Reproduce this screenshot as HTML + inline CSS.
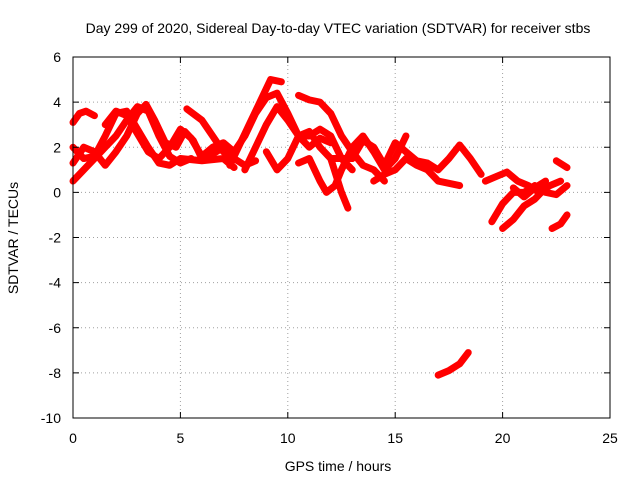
<!DOCTYPE html>
<html><head><meta charset="utf-8"><style>
body{margin:0;background:#fff}
svg{font-family:"Liberation Sans",sans-serif;font-size:14px}
</style></head><body>
<svg width="640" height="480" id="chart">
<text x="338" y="33" text-anchor="middle">Day 299 of 2020, Sidereal Day-to-day VTEC variation (SDTVAR) for receiver stbs</text>
<text x="338" y="471" text-anchor="middle">GPS time / hours</text>
<text transform="translate(18,238) rotate(-90)" text-anchor="middle">SDTVAR / TECUs</text>
<g id="grid"></g><g id="marks"></g><g id="axes"></g>
</svg>
<script>
const xTicks=[0,5,10,15,20,25];
const yTicks=[-10,-8,-6,-4,-2,0,2,4,6];
const track0=[[0,3.1],[0.3,3.5],[0.6,3.6],[1,3.4]];
const track1=[[0,0.5],[0.5,1.0],[1,1.5],[1.5,2.0],[2,2.5],[2.5,3.2],[3,3.8],[3.5,3.6],[4,2.5],[4.5,1.6],[5,1.3],[5.5,1.5]];
const track2=[[0,2.0],[0.5,1.5],[1,1.6],[1.5,2.5],[2,3.5],[2.5,3.6],[3,2.8],[3.5,2.0],[4,1.3],[4.5,1.2],[5,1.5],[6,1.4],[7,1.5],[7.5,1.1]];
const track3=[[0,1.3],[0.5,2.0],[1,1.8],[1.5,1.2],[2,1.8],[2.5,2.5],[3,3.5],[3.4,3.9],[3.8,3.2],[4.3,2.2],[4.8,2.0],[5.2,2.7],[5.6,2.3],[6,1.5],[6.5,1.7],[7,2.0]];
const track4=[[1.5,3.0],[2,3.6],[2.5,3.4],[3,2.6],[3.5,1.8],[4,1.5],[4.5,2.0],[5,2.8],[5.5,2.4],[6,1.6]];
const track5=[[5.3,3.7],[6,3.2],[6.5,2.5],[7,1.8],[7.5,1.5],[8,1.2],[8.5,1.4]];
const track6=[[6,1.6],[6.5,2.0],[7,2.2],[7.5,1.8],[8,2.5],[8.5,3.5],[9,4.2],[9.5,4.4],[10,3.5],[10.5,2.5],[11,2.0],[11.5,2.4],[12,2.2]];
const track7=[[7.3,1.2],[7.7,2.0],[8.2,3.0],[8.7,4.0],[9.2,5.0],[9.7,4.9]];
const track8=[[8,1.0],[8.5,2.0],[9,3.0],[9.5,3.8],[10,3.2],[10.5,2.5],[11,2.5],[11.5,2.8],[12,2.5],[12.5,1.5],[13,1.0]];
const track9=[[9,1.8],[9.5,1.0],[10,1.5],[10.5,2.5],[11,2.7],[11.5,2.0],[12,1.5],[12.5,0],[12.8,-0.7]];
const track10=[[10.5,4.3],[11,4.1],[11.5,4.0],[12,3.5],[12.5,2.5],[13,1.8],[13.5,1.2],[14,1.0],[14.5,0.5]];
const track11=[[10.5,1.3],[11,1.5],[11.5,0.5],[11.8,0],[12.2,0.3],[12.5,1.0],[13,2.0],[13.5,2.5],[14,1.8],[14.5,1.0],[15,1.5],[15.5,2.5]];
const track12=[[12,1.5],[13,1.5],[13.5,2.3],[14,2.0],[14.5,1.2],[15,2.2],[15.5,1.8],[16,1.4],[16.5,1.3],[17,1.0],[17.5,1.5],[18,2.1],[18.5,1.5],[19,0.8]];
const track13=[[14,0.5],[14.5,0.8],[15,1.0],[15.5,1.5],[16,1.2],[16.5,1.0],[17,0.5],[17.5,0.4],[18,0.3]];
const track14=[[17,-8.1],[17.5,-7.9],[18,-7.6],[18.4,-7.1]];
const track15=[[19.2,0.5],[19.7,0.7],[20.2,0.9],[20.7,0.5],[21.2,0.3],[21.7,0],[22.2,0.3],[22.7,0.5]];
const track16=[[19.5,-1.3],[20,-0.5],[20.5,0],[21,0],[21.5,0.3],[22,0],[22.5,-0.1],[23,0.3]];
const track17=[[20,-1.6],[20.5,-1.2],[21,-0.6],[21.5,-0.3],[22,0.2]];
const track18=[[20.5,0.2],[21,-0.2],[21.5,0.2],[22,0.5]];
const track19=[[22.3,-1.6],[22.7,-1.4],[23,-1.0]];
const track20=[[22.5,1.4],[23,1.1]];
const tracks=[track0,track1,track2,track3,track4,track5,track6,track7,track8,track9,track10,track11,track12,track13,track14,track15,track16,track17,track18,track19,track20];
const L=73,R=610,T=57,B=418;
const xs=v=>L+(v-0)/25*(R-L);
const ys=v=>B-(v+10)/16*(B-T);
const NS='http://www.w3.org/2000/svg';
function mk(tag,attrs,parent){const e=document.createElementNS(NS,tag);for(const k in attrs)e.setAttribute(k,attrs[k]);parent.appendChild(e);return e;}
const grid=document.getElementById('grid'),marks=document.getElementById('marks'),axes=document.getElementById('axes');
xTicks.forEach(t=>{const x=xs(t);
 if(t>0&&t<25){const g=mk('line',{x1:x,x2:x,y1:T,y2:B,stroke:'#a0a0a0','stroke-dasharray':'1,3'},grid);}
 mk('line',{x1:x,x2:x,y1:B,y2:B-6,stroke:'#000'},axes);mk('line',{x1:x,x2:x,y1:T,y2:T+6,stroke:'#000'},axes);
 const tx=mk('text',{x:x,y:443,'text-anchor':'middle'},axes);tx.textContent=t;
 });
yTicks.forEach(t=>{const y=ys(t);
 if(t>-10&&t<6){const g=mk('line',{x1:L,x2:R,y1:y,y2:y,stroke:'#a0a0a0','stroke-dasharray':'1,3'},grid);}
 mk('line',{x1:L,x2:L+6,y1:y,y2:y,stroke:'#000'},axes);mk('line',{x1:R,x2:R-6,y1:y,y2:y,stroke:'#000'},axes);
 const tx=mk('text',{x:61,y:y+5,'text-anchor':'end'},axes);tx.textContent=t;
 });
const frame=mk('rect',{x:L,y:T,width:R-L,height:B-T,fill:'none',stroke:'#000'},axes);

tracks.forEach(tr=>{
 const p=mk('polyline',{points:tr.map(d=>xs(d[0])+','+ys(d[1])).join(' '),fill:'none',stroke:'#ff0000','stroke-width':7,'stroke-linejoin':'round','stroke-linecap':'round'},marks);
 
 
});
</script>
</body></html>
